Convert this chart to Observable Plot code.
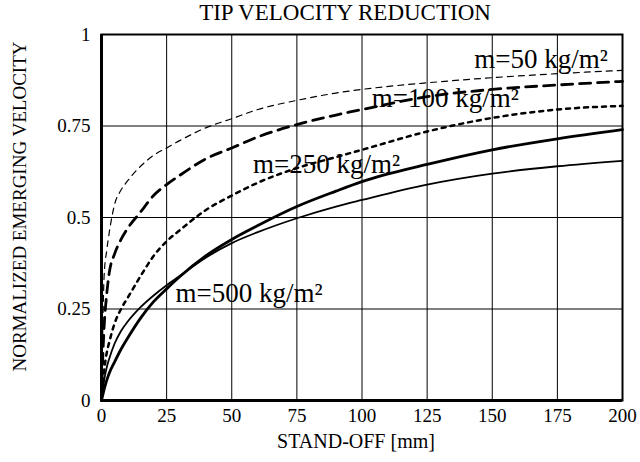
<!DOCTYPE html>
<html>
<head>
<meta charset="utf-8">
<script src="https://cdn.jsdelivr.net/npm/d3@7"></script>
<script src="https://cdn.jsdelivr.net/npm/@observablehq/plot@0.6"></script>
<style>
  html, body { margin: 0; padding: 0; background: #fff; }
  #chart svg, #chart svg text { font-family: "Liberation Serif", "DejaVu Serif", "Times New Roman", serif !important; }
</style>
</head>
<body>
<div id="chart"></div>
<script>
// Stand-off distance [mm]
const standOff = [0, 0.5, 1, 2, 3, 5, 7.5, 10, 15, 20, 25, 30, 40, 50, 60, 75, 90, 100, 125, 150, 175, 200];

// Normalized emerging velocity for each curve
const m50  = [0, 0.20, 0.34, 0.41, 0.46, 0.535, 0.575, 0.60, 0.64, 0.67, 0.69, 0.71, 0.745, 0.77, 0.795, 0.82, 0.84, 0.85, 0.868, 0.882, 0.893, 0.902];
const m100 = [0, 0.12, 0.20, 0.29, 0.35, 0.40, 0.44, 0.47, 0.515, 0.56, 0.59, 0.615, 0.66, 0.69, 0.72, 0.754, 0.78, 0.795, 0.83, 0.85, 0.862, 0.872];
const m250 = [0, 0.04, 0.08, 0.13, 0.16, 0.21, 0.25, 0.28, 0.34, 0.395, 0.435, 0.465, 0.52, 0.56, 0.595, 0.635, 0.665, 0.685, 0.735, 0.772, 0.795, 0.805];
const solidThick = [0, 0.015, 0.03, 0.055, 0.075, 0.105, 0.14, 0.17, 0.225, 0.27, 0.305, 0.338, 0.395, 0.44, 0.478, 0.53, 0.572, 0.598, 0.645, 0.685, 0.715, 0.74];
const solidThin  = [0, 0.03, 0.055, 0.09, 0.115, 0.155, 0.19, 0.215, 0.255, 0.287, 0.315, 0.34, 0.39, 0.43, 0.46, 0.498, 0.53, 0.548, 0.59, 0.62, 0.64, 0.655];

// Curve labels
const labelText = ["m=50 kg/m²", "m=100 kg/m²", "m=250 kg/m²", "m=500 kg/m²"];
const labelX = [168.7, 132, 86.4, 56.6];
const labelY = [0.932, 0.826, 0.645, 0.292];

// Ticks
const xTicks = [0, 25, 50, 75, 100, 125, 150, 175, 200];
const yTicks = [0, 0.25, 0.5, 0.75, 1];

const titleText = "TIP VELOCITY REDUCTION";
const xLabel = "STAND-OFF [mm]";
const yLabel = "NORMALIZED EMERGING VELOCITY";

const toRows = (ys) => standOff.map((x, i) => ({x, y: ys[i]}));
const labels = labelText.map((t, i) => ({t, x: labelX[i], y: labelY[i]}));

const serif = "Liberation Serif, DejaVu Serif, serif";

const chart = Plot.plot({
  width: 640,
  height: 462,
  marginLeft: 101,
  marginRight: 18,
  marginTop: 34,
  marginBottom: 62,
  style: {fontFamily: serif, fontSize: "19px", color: "#000", background: "#fff", overflow: "visible"},
  x: {domain: [0, 200], label: null},
  y: {domain: [0, 1], label: null},
  marks: [
    Plot.gridX(xTicks, {stroke: "#000", strokeOpacity: 1, strokeWidth: 1}),
    Plot.gridY(yTicks, {stroke: "#000", strokeOpacity: 1, strokeWidth: 1}),
    Plot.frame({stroke: "#000", strokeWidth: 2}),
    Plot.ruleX([0], {stroke: "#000", strokeWidth: 3}),
    Plot.ruleY([0], {stroke: "#000", strokeWidth: 3}),
    Plot.axisX({ticks: xTicks, tickSize: 0, tickPadding: 8, tickFormat: String, label: null, fontFamily: serif}),
    Plot.axisY({ticks: yTicks, tickSize: 0, tickPadding: 11, tickFormat: String, label: null, fontFamily: serif}),
    Plot.line(toRows(m50), {x: "x", y: "y", curve: "monotone-x", stroke: "#000", strokeWidth: 1.2, strokeDasharray: "6,5"}),
    Plot.line(toRows(m100), {x: "x", y: "y", curve: "monotone-x", stroke: "#000", strokeWidth: 2.8, strokeDasharray: "11,7"}),
    Plot.line(toRows(m250), {x: "x", y: "y", curve: "monotone-x", stroke: "#000", strokeWidth: 2.5, strokeDasharray: "4,5"}),
    Plot.line(toRows(solidThick), {x: "x", y: "y", curve: "monotone-x", stroke: "#000", strokeWidth: 2.8}),
    Plot.line(toRows(solidThin), {x: "x", y: "y", curve: "monotone-x", stroke: "#000", strokeWidth: 1.8}),
    Plot.text(labels, {x: "x", y: "y", text: "t", fontSize: 27, fontFamily: serif, fill: "#000"}),
    Plot.text([titleText], {frameAnchor: "top", lineAnchor: "middle", textAnchor: "middle", dx: -17, dy: -22, fontSize: 23, fontFamily: serif, fill: "#000"}),
    Plot.text([xLabel], {frameAnchor: "bottom", lineAnchor: "middle", textAnchor: "middle", dx: -6, dy: 41, fontSize: 20, fontFamily: serif, fill: "#000"}),
    Plot.text([yLabel], {frameAnchor: "left", lineAnchor: "middle", textAnchor: "middle", dx: -82, dy: -11, rotate: -90, fontSize: 19, fontFamily: serif, fill: "#000"})
  ]
});
document.getElementById("chart").appendChild(chart);
</script>
</body>
</html>
